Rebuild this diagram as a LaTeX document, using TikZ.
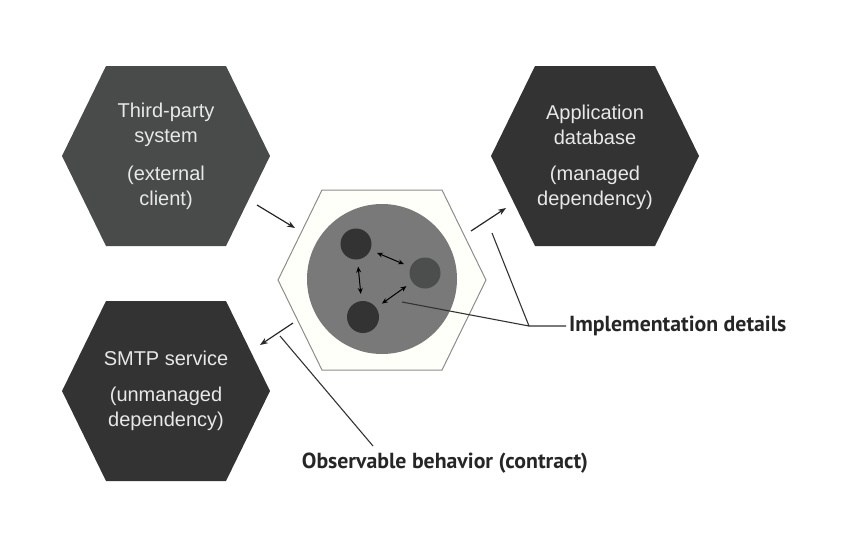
\documentclass[tikz,border=0pt]{standalone}
\usepackage{fontspec}
\setmainfont{Liberation Sans}
\newfontfamily\notefont{PT Sans}
\usetikzlibrary{arrows.meta}
\definecolor{hexdark}{HTML}{333333}
\definecolor{hexgrey}{HTML}{484B4A}
\definecolor{coregrey}{HTML}{787978}
\definecolor{objgrey}{HTML}{4B4E4D}
\definecolor{edgegrey}{HTML}{8C8C8C}
\definecolor{hextxt}{HTML}{E8E8E8}
% flat-topped hexagon round a named point
\newcommand{\hexat}[1]{(#1) ++(-104,0) -- ++(44,-90) -- ++(120,0) -- ++(44,90) -- ++(-44,90) -- ++(-120,0) -- cycle}

\begin{document}
\begin{tikzpicture}[x=1pt,y=-1pt,
    hextext/.style={text=hextxt,align=center,font=\fontsize{20}{25}\selectfont},
    note/.style={font=\notefont\bfseries\fontsize{21.8}{26}\selectfont,text=black!85},
    arr/.style={draw=black!85,line width=1.2pt,-{Stealth[length=8pt,width=6pt]}},
    dbl/.style={draw=black,line width=1pt,{Stealth[length=6pt,width=5pt]}-{Stealth[length=6pt,width=5pt]},shorten >=7pt,shorten <=7pt},
    lead/.style={draw=hexdark,line width=1.1pt}]
    \useasboundingbox (0,0) rectangle (843,542);
    \coordinate (third) at (166,156);
    \coordinate (appdb) at (595,156);
    \coordinate (smtp) at (166,391);
    \coordinate (core) at (382,280);

    \fill[hexgrey] \hexat{third};
    \fill[hexdark] \hexat{appdb};
    \fill[hexdark] \hexat{smtp};
    \filldraw[fill=white!98!yellow,draw=edgegrey,line width=1pt] \hexat{core};

    \node[hextext] (thirdtxt) at (third) {Third-party\\system\\[13pt](external\\client)};
    \node[hextext] (appdbtxt) at (595,157) {Application\\database\\[11pt](managed\\dependency)};
    \node[hextext] (smtptxt) at (smtp) {SMTP service\\[11pt](unmanaged\\dependency)};

    \node[circle,fill=coregrey,minimum size=150pt,inner sep=0pt] (ring) at (382,279) {};
    \node[circle,fill=hexdark,minimum size=31pt,inner sep=0pt] (objA) at (356,244) {};
    \node[circle,fill=objgrey,minimum size=31pt,inner sep=0pt] (objB) at (425,273) {};
    \node[circle,fill=hexdark,minimum size=32pt,inner sep=0pt] (objC) at (363,317) {};
    \draw[dbl] (objA) -- (objB);
    \draw[dbl] (objA) -- (objC);
    \draw[dbl] (objB) -- (objC);

    \coordinate (inA) at (257,205);
    \coordinate (inB) at (295,228);
    \coordinate (dbA) at (471,231);
    \coordinate (dbB) at (506,208);
    \coordinate (mailA) at (293,323);
    \coordinate (mailB) at (260,345);
    \draw[arr] (inA) -- (inB);
    \draw[arr] (dbA) -- (dbB);
    \draw[arr] (mailA) -- (mailB);

    % callouts
    \node[note,anchor=west,inner sep=3pt] (impl) at (566,326) {Implementation details};
    \node[note] (obs) at (445,463) {Observable behavior (contract)};
    \coordinate (implknee) at (529,326);
    \coordinate (implhex) at (492,233);
    \coordinate (implcore) at (402,302);
    \coordinate (obsfoot) at (280,336);
    \coordinate (obstop) at (373,446);
    \draw[lead] (implhex) -- (implknee) -- (impl.west);
    \draw[lead] (implcore) -- (implknee);
    \draw[lead] (obsfoot) -- (obstop);
\end{tikzpicture}
\end{document}
